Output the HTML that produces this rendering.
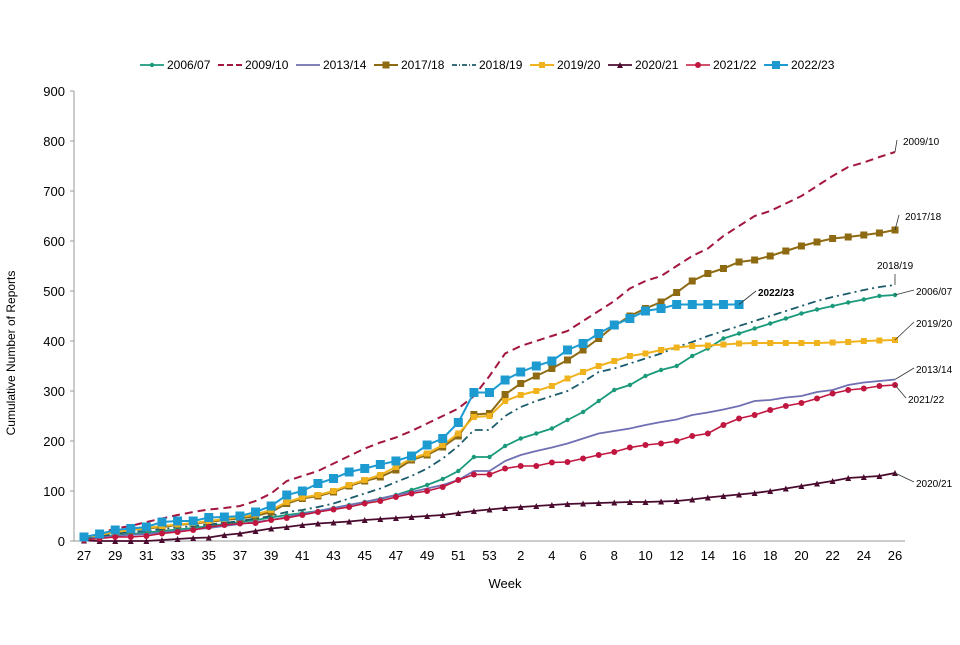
<!DOCTYPE html>
<html><head><meta charset="utf-8"><style>
body{margin:0;background:#fff;font-family:"Liberation Sans",Arial,sans-serif}
svg text{font-family:"Liberation Sans",Arial,sans-serif}
</style></head><body>
<svg id="c" width="960" height="640">
<g id="legend"></g>
<g id="axes"></g>
<g id="series"></g>
<g id="ann"></g>
<text x="15" y="353" font-size="12" text-anchor="middle" transform="rotate(-90 15 353)">Cumulative Number of Reports</text>
<text x="505" y="588" font-size="13" text-anchor="middle">Week</text>
</svg>
<script>
const weeks=[27,28,29,30,31,32,33,34,35,36,37,38,39,40,41,42,43,44,45,46,47,48,49,50,51,52,53,1,2,3,4,5,6,7,8,9,10,11,12,13,14,15,16,17,18,19,20,21,22,23,24,25,26];
const yTicks=[0,100,200,300,400,500,600,700,800,900];
const s0607=[4,8,11,14,17,20,23,26,30,34,38,42,47,52,56,60,66,72,78,84,92,102,112,124,140,168,168,190,205,215,225,242,258,280,302,312,330,342,350,370,385,405,415,425,435,445,455,463,470,477,483,490,492];
const s0910=[5,15,25,30,38,45,52,58,63,66,70,80,95,120,130,140,155,170,185,197,207,220,235,250,265,290,330,375,390,400,410,420,440,460,480,505,520,530,550,570,585,610,630,650,660,675,690,710,730,748,757,768,778];
const s1314=[3,7,10,12,14,17,20,23,26,30,34,38,42,48,54,60,66,72,78,85,92,98,105,112,122,140,140,160,172,180,187,195,205,215,220,225,232,238,243,252,257,263,270,280,282,287,290,298,302,312,317,320,323];
const s1718=[8,12,18,22,25,28,32,35,38,42,45,50,58,75,85,90,98,110,120,128,142,162,172,188,210,253,255,293,315,330,345,362,382,405,430,450,465,478,497,520,535,545,558,562,570,580,590,598,605,608,612,616,622];
const s1819=[5,10,14,18,20,24,27,30,33,36,40,45,50,58,62,68,75,85,95,105,118,130,145,165,190,222,222,250,268,280,290,300,318,338,345,355,365,375,388,398,410,420,430,440,450,460,470,480,488,495,502,508,512];
const s1920=[8,12,18,22,26,30,33,36,40,44,48,53,62,78,87,92,100,112,122,132,148,165,175,192,215,248,250,280,292,300,310,325,338,350,360,370,375,382,387,390,391,393,395,396,396,396,396,396,397,398,400,401,402];
const s2021=[1,0,0,0,0,2,4,6,7,12,15,20,25,28,32,35,37,39,42,44,46,48,50,52,56,60,63,66,68,70,72,74,75,76,77,78,78,79,80,83,87,90,93,96,100,105,110,115,120,126,128,130,136];
const s2122=[2,5,8,8,10,15,18,22,28,32,35,36,42,46,52,58,63,68,75,80,88,95,100,108,122,133,133,145,150,150,157,158,165,172,178,187,192,195,200,210,215,232,245,252,262,270,276,285,295,302,305,310,312];
const s2223=[8,14,22,25,28,38,40,40,47,48,50,58,70,92,100,115,125,138,145,153,160,170,192,205,237,297,297,322,338,350,360,382,395,415,432,445,460,465,473,473,473,473,473];
const NS="http://www.w3.org/2000/svg";
function mk(t,a,p){const e=document.createElementNS(NS,t);for(const k in a)e.setAttribute(k,a[k]);p.appendChild(e);return e;}
const X0=84,X1=895,Y0=541,Y1=91;
const xS=i=>X0+(X1-X0)*i/(weeks.length-1);
const yS=v=>Y0-(Y0-Y1)*v/900;
const axes=document.getElementById('axes');
let l=mk('line',{x1:74,y1:Y1,x2:74,y2:Y0,stroke:'#999'},axes);


l=mk('line',{x1:74,y1:Y0,x2:905,y2:Y0,stroke:'#999'},axes);


yTicks.forEach(v=>{const t=mk('text',{x:65,y:yS(v)+5,'font-size':13,'text-anchor':'end'},axes);t.textContent=v;


mk('line',{x1:70,x2:74,y1:yS(v),y2:yS(v),stroke:'#999'},axes);});
weeks.forEach((w,i)=>{if(i%2)return;const t=mk('text',{x:xS(i),y:Y0+19,'font-size':13,'text-anchor':'middle'},axes);t.textContent=w;

});
const S=[
{n:'2006/07',d:s0607,c:'#1a9a7a',w:1.8,da:'',m:'circ',ms:2.2},
{n:'2009/10',d:s0910,c:'#a3173f',w:2,da:'8,5',m:'',ms:0},
{n:'2013/14',d:s1314,c:'#6f6fb3',w:1.8,da:'',m:'',ms:0},
{n:'2017/18',d:s1718,c:'#8e6b12',w:2,da:'',m:'sq',ms:3.5},
{n:'2018/19',d:s1819,c:'#1b5b6b',w:1.8,da:'8,4,2,4',m:'',ms:0},
{n:'2019/20',d:s1920,c:'#f0b31e',w:2,da:'',m:'sq',ms:3},
{n:'2020/21',d:s2021,c:'#4a0b2e',w:1.8,da:'',m:'tri',ms:3},
{n:'2021/22',d:s2122,c:'#c0163f',w:1.6,da:'',m:'circ',ms:3},
{n:'2022/23',d:s2223,c:'#1d9bd1',w:2,da:'',m:'sq',ms:4.5}];
function marker(s,x,y,g){if(s.m==='circ')return mk('circle',{cx:x,cy:y,r:s.ms,fill:s.c},g);
if(s.m==='sq')return mk('rect',{x:x-s.ms,y:y-s.ms,width:2*s.ms,height:2*s.ms,fill:s.c},g);
if(s.m==='tri')return mk('polygon',{points:`${x},${y-s.ms} ${x-s.ms},${y+s.ms} ${x+s.ms},${y+s.ms}`,fill:s.c},g);}
const sg=document.getElementById('series');
S.forEach(s=>{const g=mk('g',{},sg);


const p=mk('polyline',{points:s.d.map((v,i)=>xS(i)+','+yS(v)).join(' '),fill:'none',stroke:s.c,'stroke-width':s.w,'stroke-dasharray':s.da},g);


if(s.m)s.d.forEach((v,i)=>{const m=marker(s,xS(i),yS(v),g);

});});
const lg=document.getElementById('legend');
let lx=140;
S.forEach((s,i)=>{const g=mk('g',{},lg);


mk('line',{x1:lx,x2:lx+24,y1:65,y2:65,stroke:s.c,'stroke-width':s.w,'stroke-dasharray':s.da?(s.da==='8,5'?'6,3':'5,2,1,2'):''},g);
if(s.m)marker({m:s.m,c:s.c,ms:Math.min(s.ms,4)},lx+12,65,g);
const t=mk('text',{x:lx+27,y:69,'font-size':12},g);t.textContent=s.n;lx+=78;});
const ann=document.getElementById('ann');
const A=[
{t:'2009/10',tx:903,ty:145,px:895,py:yS(778),lx:897,ly:140},
{t:'2017/18',tx:905,ty:220,px:895,py:yS(622),lx:899,ly:215},
{t:'2018/19',tx:877,ty:269,px:895,py:yS(512),lx:895,ly:274},
{t:'2006/07',tx:916,ty:295,px:895,py:yS(492),lx:914,ly:290},
{t:'2019/20',tx:916,ty:327,px:895,py:yS(402),lx:914,ly:322},
{t:'2013/14',tx:916,ty:373,px:895,py:yS(323),lx:914,ly:368},
{t:'2021/22',tx:908,ty:403,px:895,py:yS(312),lx:906,ly:398},
{t:'2020/21',tx:916,ty:487,px:895,py:yS(136),lx:914,ly:482},
{t:'2022/23',tx:758,ty:296,px:739,py:yS(473),lx:756,ly:291,b:1}];
A.forEach(a=>{mk('polyline',{points:`${a.px},${a.py} ${a.lx},${a.ly}`,fill:'none',stroke:'#333','stroke-width':0.8},ann);
const t=mk('text',{x:a.tx,y:a.ty,'font-size':10,'font-weight':a.b?'bold':'normal'},ann);t.textContent=a.t;

});
</script>
</body></html>
